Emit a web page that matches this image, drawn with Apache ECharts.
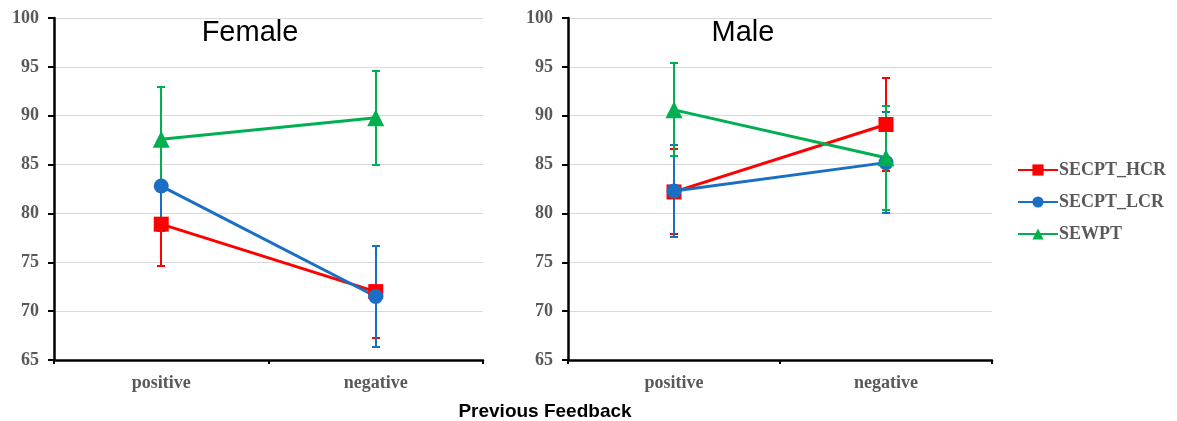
<!DOCTYPE html>
<html><head><meta charset="utf-8">
<script src="https://cdn.jsdelivr.net/npm/echarts@6/dist/echarts.min.js"></script>
<style>html,body{margin:0;padding:0;background:#fff}#c{width:1177px;height:421px}</style>
</head><body><div id="c"></div>
<script>
const categories = ['positive', 'negative'];
const yTicks = [65, 70, 75, 80, 85, 90, 95, 100];
const seriesNames = ['SECPT_HCR', 'SECPT_LCR', 'SEWPT'];
// Female
const femaleHCR = [78.9, 72.0];
const femaleHCRErr = [4.3, 4.7];
const femaleLCR = [82.8, 71.5];
const femaleLCRErr = [4.6, 5.2];
const femaleWPT = [87.6, 89.8];
const femaleWPTErr = [5.3, 4.8];
// Male
const maleHCR = [82.2, 89.1];
const maleHCRErr = [4.35, 4.75];
const maleLCR = [82.3, 85.2];
const maleLCRErr = [4.75, 5.2];
const maleWPT = [90.6, 85.7];
const maleWPTErr = [4.75, 5.3];

const colors = ['#ff0000', '#1a6fc4', '#00b050'];
const symbols = ['rect', 'circle', 'triangle'];
const symbolSizes = [15, 15, 17];

const panels = [
  { vals: [femaleHCR, femaleLCR, femaleWPT], errs: [femaleHCRErr, femaleLCRErr, femaleWPTErr] },
  { vals: [maleHCR, maleLCR, maleWPT], errs: [maleHCRErr, maleLCRErr, maleWPTErr] }
];

const labelFont = { fontFamily: 'Liberation Serif', fontWeight: 'bold', color: '#595959' };

function errRender(color) {
  return function (params, api) {
    const x = api.value(0);
    const lo = api.coord([x, api.value(1)]);
    const hi = api.coord([x, api.value(2)]);
    const px = Math.round(lo[0]);
    const ylo = Math.round(lo[1]), yhi = Math.round(hi[1]);
    const w = 4;
    const st = { stroke: color, lineWidth: 2 };
    return { type: 'group', children: [
      { type: 'line', shape: { x1: px, y1: ylo, x2: px, y2: yhi }, style: st },
      { type: 'line', shape: { x1: px - w, y1: ylo, x2: px + w, y2: ylo }, style: st },
      { type: 'line', shape: { x1: px - w, y1: yhi, x2: px + w, y2: yhi }, style: st }
    ]};
  };
}

const series = [];
panels.forEach((p, gi) => {
  p.vals.forEach((v, si) => {
    series.push({
      type: 'custom',
      xAxisIndex: gi, yAxisIndex: gi,
      z: 1,
      silent: true,
      renderItem: errRender(colors[si]),
      data: v.map((val, i) => [i, val - p.errs[si][i], val + p.errs[si][i]])
    });
  });
  p.vals.forEach((v, si) => {
    series.push({
      name: seriesNames[si],
      type: 'line',
      xAxisIndex: gi, yAxisIndex: gi,
      z: 3,
      data: v,
      symbol: symbols[si],
      symbolSize: symbolSizes[si],
      lineStyle: { color: colors[si], width: 3 },
      itemStyle: { color: colors[si] },
      animation: false
    });
  });
});

function xAxis(gi) {
  return {
    type: 'category', gridIndex: gi, data: categories, boundaryGap: true,
    axisLine: { lineStyle: { color: '#000', width: 2.5 } },
    axisTick: { show: true, length: 4, lineStyle: { color: '#000', width: 2 } },
    axisLabel: Object.assign({ fontSize: 18, margin: 14 }, labelFont),
    splitLine: { show: false }
  };
}
function yAxis(gi) {
  return {
    type: 'value', gridIndex: gi, min: yTicks[0], max: yTicks[yTicks.length - 1], interval: 5,
    axisLine: { show: true, lineStyle: { color: '#000', width: 2.5 } },
    axisTick: { show: true, length: 6, lineStyle: { color: '#000', width: 2 } },
    axisLabel: Object.assign({ fontSize: 18, margin: 15 }, labelFont),
    splitLine: { show: true, lineStyle: { color: '#d9d9d9', width: 1 } }
  };
}

const chart = echarts.init(document.getElementById('c'), null, { renderer: 'canvas' });
chart.setOption({
  animation: false,
  title: [
    { text: 'Female', left: 245, top: 13, textAlign: 'center', textStyle: { fontFamily: 'Liberation Sans', fontWeight: 'normal', fontSize: 29, color: '#000' } },
    { text: 'Male', left: 738, top: 13, textAlign: 'center', textStyle: { fontFamily: 'Liberation Sans', fontWeight: 'normal', fontSize: 29, color: '#000' } },
    { text: 'Previous Feedback', left: 540, top: 397, textAlign: 'center', textStyle: { fontFamily: 'Liberation Sans', fontWeight: 'bold', fontSize: 19, color: '#000' } }
  ],
  legend: {
    orient: 'vertical', left: 1012, top: 156, itemWidth: 40, itemHeight: 14, itemGap: 14,
    data: seriesNames,
    textStyle: Object.assign({ fontSize: 18, padding: [0, 0, 0, -4] }, labelFont)
  },
  grid: [
    { left: 54, top: 18, width: 429, height: 342 },
    { left: 568, top: 18, width: 424, height: 342 }
  ],
  xAxis: [xAxis(0), xAxis(1)],
  yAxis: [yAxis(0), yAxis(1)],
  series: series
});
</script></body></html>
